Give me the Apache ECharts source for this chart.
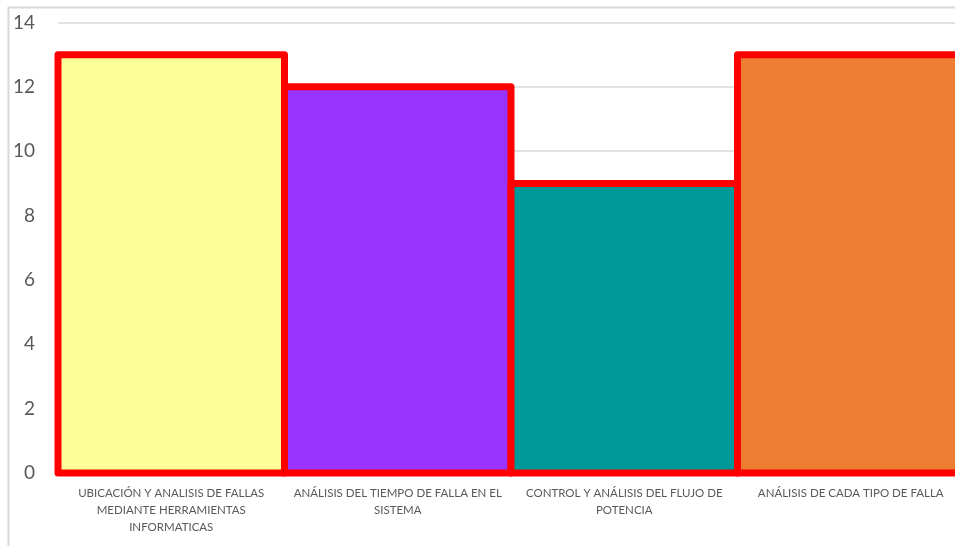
<!DOCTYPE html>
<html>
<head>
<meta charset="utf-8">
<script src="https://cdn.jsdelivr.net/npm/echarts@6/dist/echarts.min.js"></script>
<style>
  html, body { margin: 0; padding: 0; background: #fff; }
  #chart { width: 955px; height: 546px; }
</style>
</head>
<body>
<div id="chart"></div>
<script>
// categories (line breaks as in the original chart)
const categories = [
  'UBICACIÓN Y ANALISIS DE FALLAS\nMEDIANTE HERRAMIENTAS\nINFORMATICAS',
  'ANÁLISIS DEL TIEMPO DE FALLA EN EL\nSISTEMA',
  'CONTROL Y ANÁLISIS DEL FLUJO DE\nPOTENCIA',
  'ANÁLISIS DE CADA TIPO DE FALLA'
];
const values = [13, 12, 9, 13];
const barColors = ['#FDFD99', '#9933FF', '#009999', '#ED7D31'];

const chart = echarts.init(document.getElementById('chart'), null, { renderer: 'canvas' });

// bars with the red outline centred on the bar edge (like the original)
function renderBar(params, api) {
  const base = api.coord([api.value(0), 0]);
  const top = api.coord([api.value(0), api.value(1)]);
  const w = api.size([1, 0])[0];
  return {
    type: 'rect',
    shape: { x: base[0] - w / 2, y: top[1], width: w, height: base[1] - top[1] },
    style: {
      fill: api.visual('color'),
      stroke: '#FF0000',
      lineWidth: 7,
      lineJoin: 'round'
    }
  };
}

chart.setOption({
  animation: false,
  graphic: [{
    type: 'rect',
    shape: { x: 8.5, y: 7.5, width: 1200, height: 800 },
    style: { fill: 'none', stroke: '#d9d9d9', lineWidth: 2 },
    silent: true
  }],
  grid: { left: 58, top: 22.5, width: 906, height: 450.5, outerBoundsMode: 'none' },
  xAxis: {
    type: 'category',
    data: categories,
    axisLine: { lineStyle: { color: '#d9d9d9', width: 1 } },
    axisTick: { show: false },
    axisLabel: {
      interval: 0,
      margin: 12,
      color: '#595959',
      fontFamily: 'Lato',
      fontSize: 11.5,
      lineHeight: 17
    }
  },
  yAxis: {
    type: 'value',
    min: 0,
    max: 14,
    interval: 2,
    axisLine: { show: false },
    axisTick: { show: false },
    splitLine: { lineStyle: { color: '#d9d9d9', width: 1.5 } },
    axisLabel: {
      margin: 23,
      color: '#595959',
      fontFamily: 'Lato',
      fontSize: 19
    }
  },
  series: [{
    type: 'custom',
    renderItem: renderBar,
    clip: false,
    encode: { x: 0, y: 1 },
    data: values.map((v, i) => ({
      value: [i, v],
      itemStyle: { color: barColors[i] }
    }))
  }]
});
</script>
</body>
</html>
